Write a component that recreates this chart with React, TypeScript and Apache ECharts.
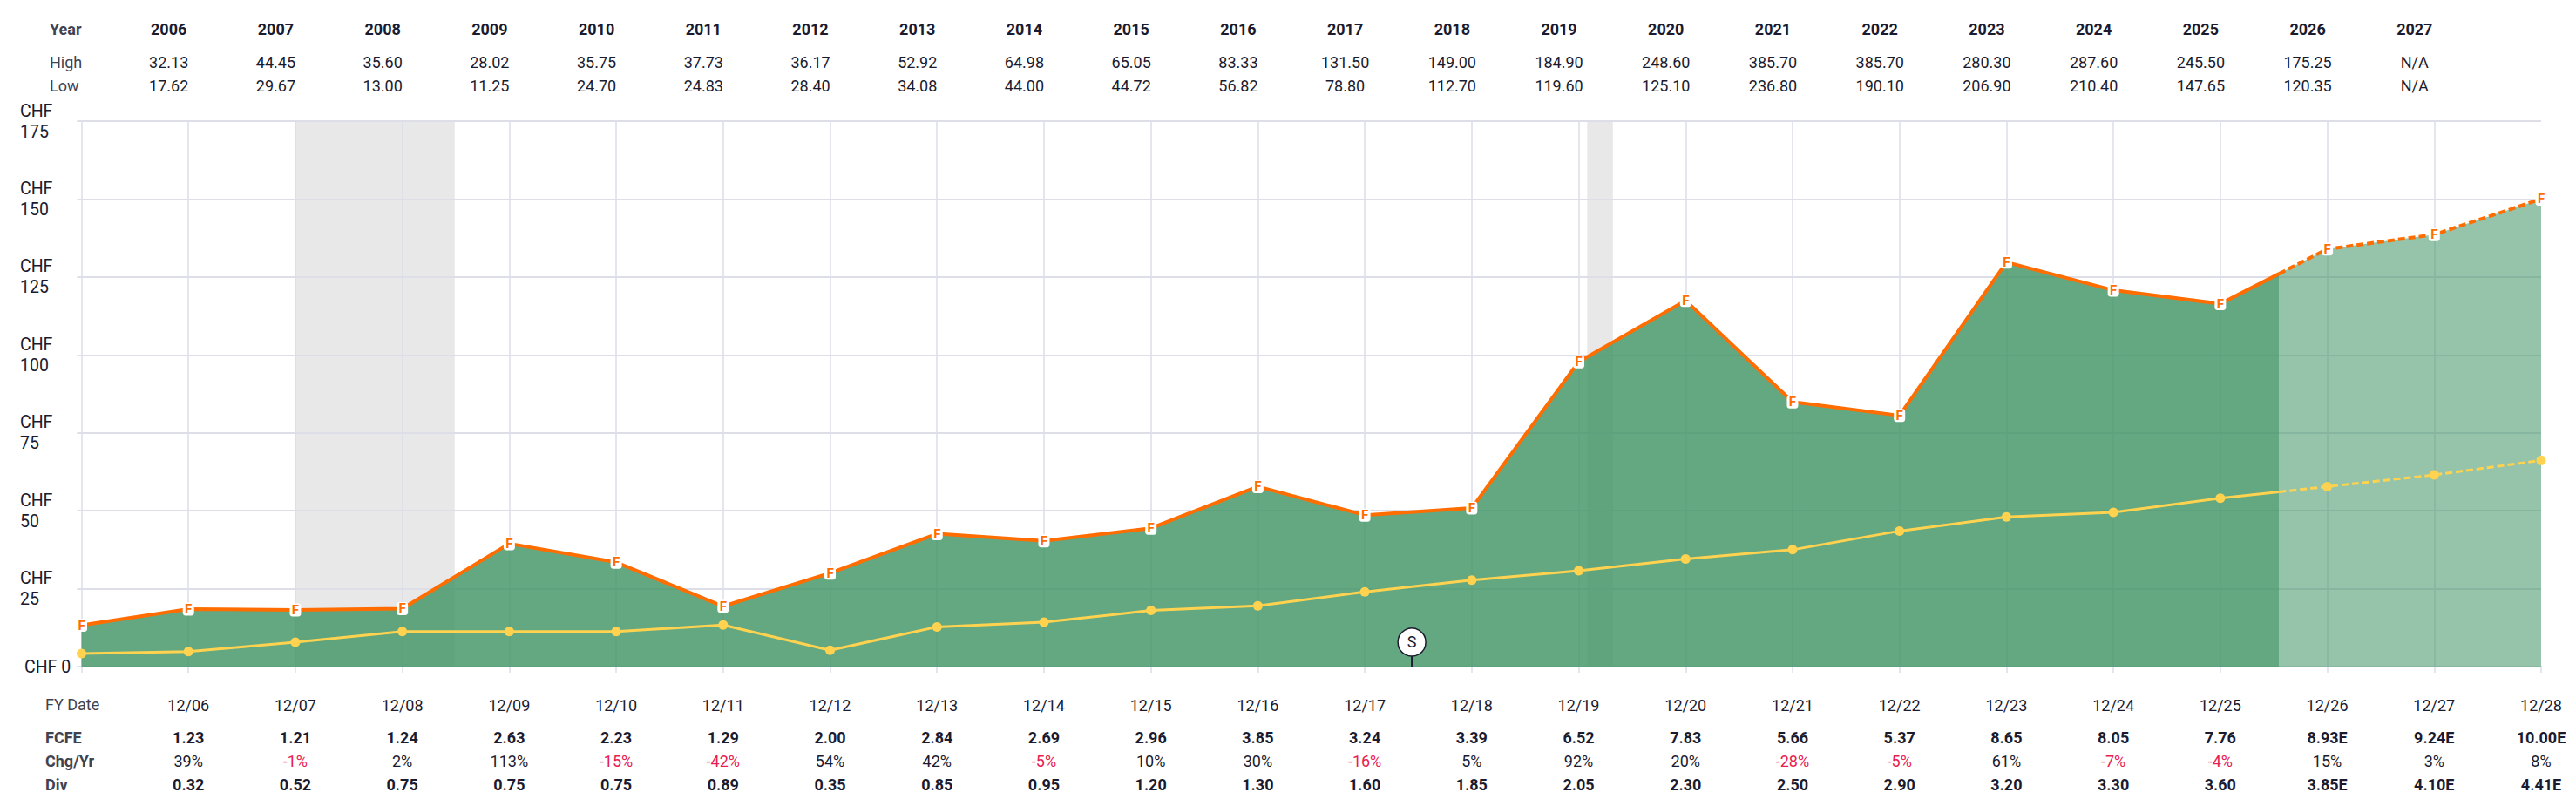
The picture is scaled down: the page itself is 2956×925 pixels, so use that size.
import React, { useEffect, useRef } from "react";
import * as echarts from "echarts";

const headerYears = ["2006","2007","2008","2009","2010","2011","2012","2013","2014","2015","2016","2017","2018","2019","2020","2021","2022","2023","2024","2025","2026","2027"];
const highs = ["32.13","44.45","35.60","28.02","35.75","37.73","36.17","52.92","64.98","65.05","83.33","131.50","149.00","184.90","248.60","385.70","385.70","280.30","287.60","245.50","175.25","N/A"];
const lows = ["17.62","29.67","13.00","11.25","24.70","24.83","28.40","34.08","44.00","44.72","56.82","78.80","112.70","119.60","125.10","236.80","190.10","206.90","210.40","147.65","120.35","N/A"];
const fcfe = ["1.23","1.21","1.24","2.63","2.23","1.29","2.00","2.84","2.69","2.96","3.85","3.24","3.39","6.52","7.83","5.66","5.37","8.65","8.05","7.76","8.93E","9.24E","10.00E"];
const chg = ["39%","-1%","2%","113%","-15%","-42%","54%","42%","-5%","10%","30%","-16%","5%","92%","20%","-28%","-5%","61%","-7%","-4%","15%","3%","8%"];
const divs = ["0.32","0.52","0.75","0.75","0.75","0.89","0.35","0.85","0.95","1.20","1.30","1.60","1.85","2.05","2.30","2.50","2.90","3.20","3.30","3.60","3.85E","4.10E","4.41E"];

const years = [2005,2006,2007,2008,2009,2010,2011,2012,2013,2014,2015,2016,2017,2018,2019,2020,2021,2022,2023,2024,2025,2026,2027,2028];
const priceValues = [13.27,18.45,18.15,18.6,39.45,33.45,19.35,30,42.6,40.35,44.4,57.75,48.6,50.85,97.8,117.45,84.9,80.55,129.75,120.75,116.4,133.95,138.6,150];
const dividendValues = [4.2,4.8,7.8,11.25,11.25,11.25,13.35,5.25,12.75,14.25,18,19.5,24,27.75,30.75,34.5,37.5,43.5,48,49.5,54,57.75,61.5,66.15];

const forecastStart = 2025.55;
const priceAtStart = 126.05;
const dividendAtStart = 56.06;
const recessions = [[2007, 2008.49], [2019.08, 2019.32]];
const splitMark = [2017.44, 7.85];

const FONT = "Roboto";
const DARK = "#1b1b2f";
const GREY = "#3f4350";
const RED = "#e8204f";
const GRID = "#dddee7";
const ORANGE = "#ff6d00";
const YELLOW = "#ffd24f";
const AREA_SOLID = "rgba(61,146,99,0.8)";
const AREA_FORECAST = "rgba(61,146,99,0.54)";

const pair = (xs: number[], ys: number[]) => xs.map((x, i) => [x, ys[i]]);

export default function App() {
  const ref = useRef<HTMLDivElement>(null);
  useEffect(() => {
    document.body.style.margin = "0";
    const chart = echarts.init(ref.current!, undefined, { renderer: "svg" });
    const actualEnd = years.findIndex((y) => y > forecastStart);
    const priceActual = [...pair(years, priceValues).slice(0, actualEnd), [forecastStart, priceAtStart]];
    const priceForecast = [[forecastStart, priceAtStart], ...pair(years, priceValues).slice(actualEnd)];
    const divActual = [...pair(years, dividendValues).slice(0, actualEnd), [forecastStart, dividendAtStart]];
    const divForecast = [[forecastStart, dividendAtStart], ...pair(years, dividendValues).slice(actualEnd)];

    const option: any = {
      animation: false,
      grid: { left: 93.5, right: 40, top: 139, bottom: 160 },
      xAxis: {
        type: "value",
        min: 2005,
        max: 2028,
        interval: 1,
        axisLine: { show: true, onZero: false, lineStyle: { color: GRID, width: 2 } },
        axisTick: { show: true, length: 7, lineStyle: { color: GRID, width: 1.5 } },
        splitLine: { show: true, showMaxLine: false, lineStyle: { color: GRID, width: 1.5 } },
        axisLabel: {
          show: true,
          margin: 35,
          hideOverlap: false,
          showMinLabel: true,
          showMaxLabel: true,
          fontFamily: FONT,
          fontSize: 18,
          color: DARK,
          formatter: (v: number) => (v === 2005 ? "" : "12/" + String(v).slice(2)),
        },
      },
      yAxis: {
        type: "value",
        min: 0,
        max: 175,
        interval: 25,
        axisLine: { show: false },
        axisTick: { show: true, length: 5, lineStyle: { color: GRID, width: 2 } },
        splitLine: { show: true, lineStyle: { color: GRID, width: 2 } },
        axisLabel: {
          show: true,
          margin: 70.5,
          align: "left",
          fontFamily: FONT,
          fontSize: 19.5,
          lineHeight: 24,
          color: DARK,
          formatter: (v: number) => (v === 0 ? "{zero|CHF 0}" : "CHF\n" + v),
          rich: { zero: { fontFamily: FONT, fontSize: 19.5, color: DARK, padding: [0, 0, 0, 5] } },
        },
      },
      series: [
        {
          type: "line",
          z: -1,
          silent: true,
          data: [],
          markArea: {
            z: -1,
            silent: true,
            itemStyle: { color: "#e8e8e8" },
            data: recessions.map(([a, b]) => [{ xAxis: a }, { xAxis: b }]),
          },
        },
        {
          type: "line",
          z: 2,
          data: priceActual,
          showSymbol: false,
          symbol: "none",
          clip: false,
          lineStyle: { color: ORANGE, width: 4 },
          areaStyle: { color: AREA_SOLID, opacity: 1 },
        },
        {
          type: "line",
          z: 2,
          data: priceForecast,
          showSymbol: false,
          symbol: "none",
          clip: false,
          lineStyle: { color: ORANGE, width: 4, type: [8, 4] },
          areaStyle: { color: AREA_FORECAST, opacity: 1 },
        },
        {
          type: "line",
          z: 3,
          data: divActual,
          symbol: "none",
          clip: false,
          lineStyle: { color: YELLOW, width: 3 },
        },
        {
          type: "line",
          z: 3,
          data: divForecast,
          symbol: "none",
          clip: false,
          lineStyle: { color: YELLOW, width: 3, type: [8, 4] },
        },
        {
          type: "scatter",
          z: 4,
          data: pair(years, dividendValues),
          symbol: "circle",
          symbolSize: 11,
          clip: false,
          itemStyle: { color: YELLOW, opacity: 1 },
        },
        {
          type: "scatter",
          z: 5,
          data: pair(years, priceValues),
          symbol: "roundRect",
          symbolSize: [13, 15],
          clip: false,
          itemStyle: { color: "#ffffff", opacity: 1 },
          label: {
            show: true,
            position: "inside",
            formatter: "F",
            fontFamily: FONT,
            fontWeight: 700,
            fontSize: 15,
            color: ORANGE,
          },
        },
        {
          type: "line",
          z: 6,
          data: [[splitMark[0], 0], [splitMark[0], splitMark[1]]],
          symbol: "none",
          clip: false,
          lineStyle: { color: DARK, width: 2 },
        },
        {
          type: "scatter",
          z: 7,
          data: [splitMark],
          symbol: "circle",
          symbolSize: 32,
          clip: false,
          itemStyle: { color: "#ffffff", borderColor: DARK, borderWidth: 1.5, opacity: 1 },
          label: {
            show: true,
            position: "inside",
            formatter: "S",
            fontFamily: FONT,
            fontSize: 18,
            color: DARK,
          },
        },
      ],
    };
    chart.setOption(option);

    const px = (y: number) => chart.convertToPixel({ xAxisIndex: 0 }, y) as number;
    const text = (t: string, x: number, y: number, font: string, fill: string, align = "center") => ({
      type: "text",
      silent: true,
      style: { text: t, x, y, font, fill, textAlign: align, textVerticalAlign: "middle" },
    });
    const B = `700 18px ${FONT}`;
    const R = `400 18px ${FONT}`;
    const els: any[] = [];
    const labelX1 = 57;
    const labelX2 = 52;
    els.push(text("Year", labelX1, 33, B, GREY, "left"));
    els.push(text("High", labelX1, 71, R, GREY, "left"));
    els.push(text("Low", labelX1, 98, R, GREY, "left"));
    headerYears.forEach((y, i) => {
      const x = px(2006 + i) - 22.5;
      els.push(text(y, x, 33, B, DARK));
      els.push(text(highs[i], x, 71, R, DARK));
      els.push(text(lows[i], x, 98, R, DARK));
    });
    els.push(text("FY Date", labelX2, 808, R, GREY, "left"));
    els.push(text("FCFE", labelX2, 846, B, GREY, "left"));
    els.push(text("Chg/Yr", labelX2, 873, B, GREY, "left"));
    els.push(text("Div", labelX2, 900, B, GREY, "left"));
    fcfe.forEach((v, i) => {
      const x = px(2006 + i);
      els.push(text(v, x, 846, B, DARK));
      els.push(text(chg[i], x, 873, R, chg[i].startsWith("-") ? RED : DARK));
      els.push(text(divs[i], x, 900, B, DARK));
    });
    chart.setOption({ graphic: { elements: els } });

    return () => chart.dispose();
  }, []);
  return <div ref={ref} style={{ position: "absolute", left: 0, top: 0, width: 2956, height: 925, background: "#fff" }} />;
}
